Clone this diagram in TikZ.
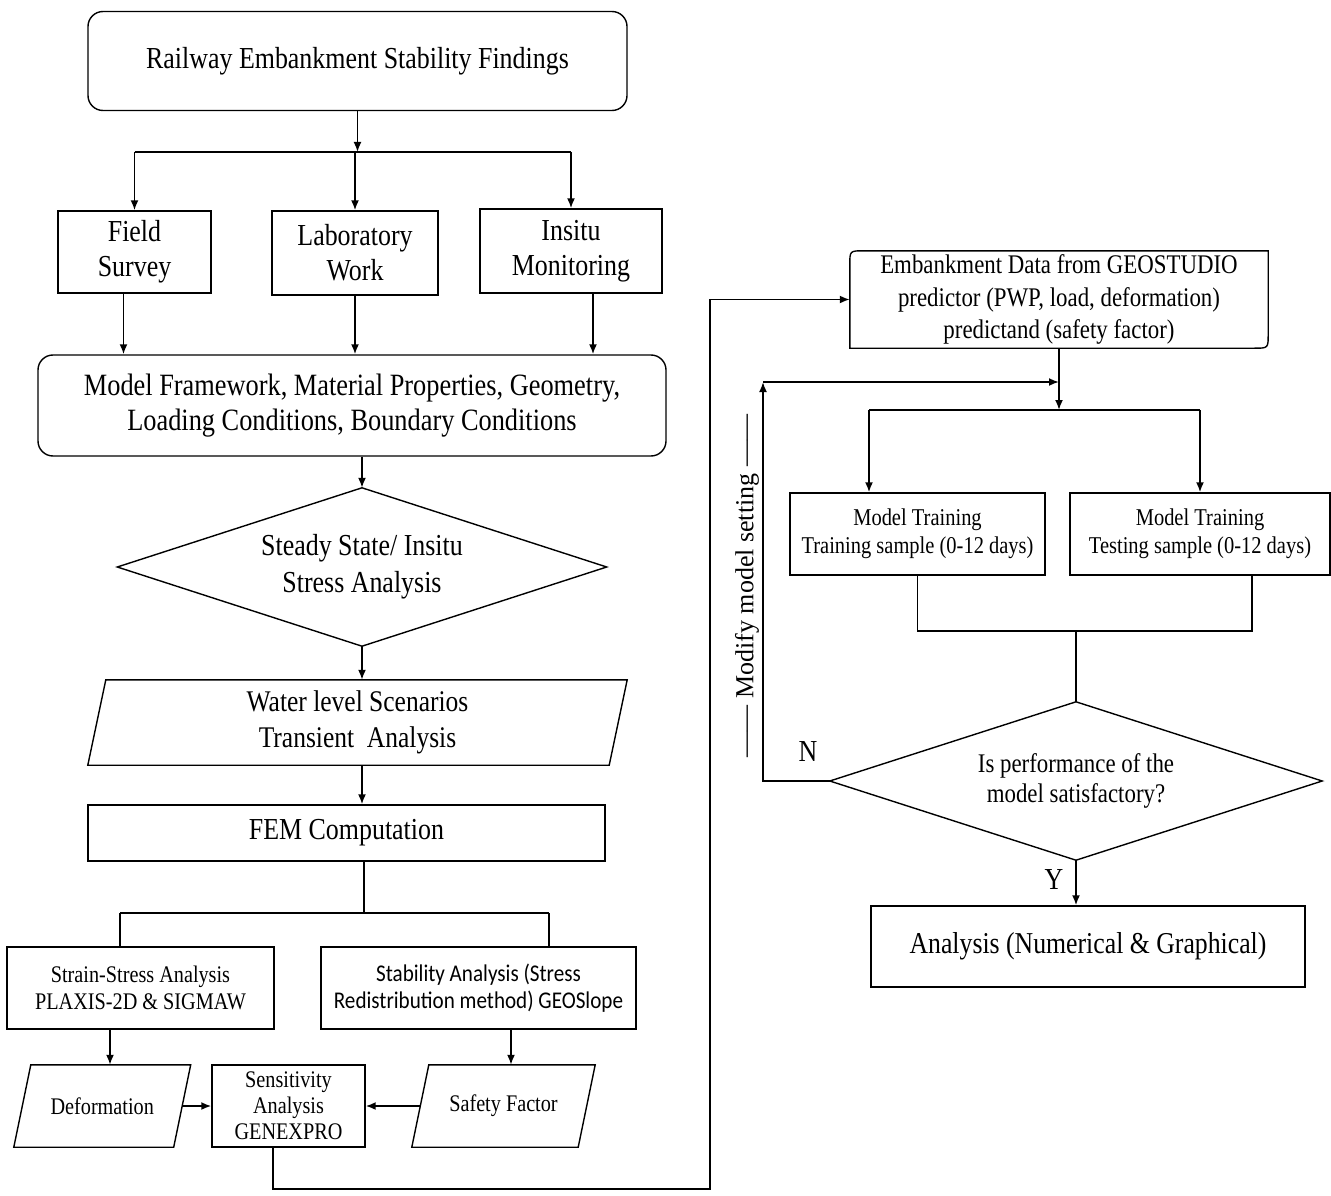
\documentclass[tikz,border=0pt]{standalone}
\usepackage{fontspec}
\setmainfont{Liberation Serif}[FakeStretch=0.85]
\newfontfamily\plainserif{Liberation Serif}
\newfontfamily\sanscond{Carlito}[FakeStretch=0.88]
\usetikzlibrary{arrows.meta,calc}
\newcommand\fsz[2]{\fontsize{#1}{#2}\selectfont}
\newcommand\paraoutline[2]{\draw[shp] ($(#1.north west)+(#2,0)$) -- ($(#1.north east)+(#2,0)$) -- ($(#1.south east)+(-#2,0)$) -- ($(#1.south west)+(-#2,0)$) -- cycle;}
\begin{document}
\begin{tikzpicture}[x=1pt,y=-1pt,
  boxs/.style={draw, line width=1.4pt, inner sep=0pt, align=center},
  rbox/.style={boxs, rounded corners=15pt},
  ghost/.style={inner sep=0pt, align=center},
  conn/.style={line width=1.8pt},
  arr/.style={conn, -{Latex[length=10pt,width=8pt]}},
  shp/.style={line width=1.4pt, line join=miter},
  big/.style={font=\fsz{30.5}{35}},
  small/.style={font=\fsz{23.8}{27}}]
\useasboundingbox (0,0) rectangle (1331,1196);

% ---------- left column ----------
\node[rbox, big, minimum width=539pt, minimum height=99pt] (top) at (357.5,61) {Railway Embankment Stability Findings};
\node[boxs, big, minimum width=153pt, minimum height=82pt] (field) at (134.5,252) {Field\\Survey};
\node[boxs, big, minimum width=166pt, minimum height=84pt] (lab) at (355,253) {Laboratory\\Work};
\node[boxs, big, minimum width=182pt, minimum height=84pt] (insitu) at (571,251) {Insitu\\Monitoring};
\node[rbox, font=\fsz{31}{35}, minimum width=628pt, minimum height=101pt] (model) at (352,405.5) {Model Framework, Material Properties, Geometry,\\Loading Conditions, Boundary Conditions};
\node[ghost, font=\fsz{30.5}{37}, minimum width=489pt, minimum height=158pt] (d1) at (362,567) {Steady State/ Insitu\\Stress Analysis};
\node[ghost, font=\fsz{30}{36}, minimum width=521pt, minimum height=85pt] (water) at (357.5,722.5) {Water level Scenarios\\Transient\ \ Analysis};
\node[boxs, big, minimum width=517pt, minimum height=56pt] (fem) at (346.5,833) {FEM Computation};
\node[boxs, small, minimum width=267pt, minimum height=82pt] (strain) at (140.5,988) {Strain-Stress Analysis\\PLAXIS-2D \& SIGMAW};
\node[boxs, font=\sanscond\fsz{24}{27}, minimum width=315pt, minimum height=82pt] (stab) at (478.5,988) {Stability Analysis (Stress\\Redistribution method) GEOSlope};
\node[ghost, small, minimum width=159.5pt, minimum height=82pt] (deform) at (102.25,1106) {Deformation};
\node[boxs, font=\fsz{23.8}{26}, minimum width=153pt, minimum height=82pt] (sens) at (288.5,1106) {Sensitivity\\Analysis\\GENEXPRO};
\node[ghost, small, minimum width=166pt, minimum height=82pt] (safety) at (503.5,1106) {Safety Factor};

% ---------- right column ----------
\node[ghost, font=\fsz{26.9}{32.5}, minimum width=418pt, minimum height=97pt] (emb) at (1059,299.5) {Embankment Data from GEOSTUDIO\\predictor (PWP, load, deformation)\\predictand (safety factor)};
\node[boxs, font=\fsz{24.1}{28}, minimum width=255pt, minimum height=82pt] (mt1) at (917.5,534) {Model Training\\Training sample (0-12 days)};
\node[boxs, font=\fsz{24.1}{28}, minimum width=260pt, minimum height=82pt] (mt2) at (1200,534) {Model Training\\Testing sample (0-12 days)};
\node[ghost, font=\fsz{26.9}{30}, minimum width=492pt, minimum height=158pt] (d2) at (1076,781) {Is performance of the\\model satisfactory?};
\node[boxs, font=\fsz{30.3}{35}, minimum width=434pt, minimum height=81pt] (ana) at (1088,946.5) {Analysis (Numerical \& Graphical)};
\node[font=\fsz{30.5}{30}, inner sep=0pt] (nlab) at (808,752) {N};
\node[font=\fsz{30.5}{30}, inner sep=0pt] (ylab) at (1054,880) {Y};
\node[rotate=90, font=\plainserif\fsz{26}{30}, inner sep=0pt] (modlab) at (747,586) {—— Modify model setting ——};

% ---------- shape outlines ----------
\draw[shp] (d1.north) -- (d1.east) -- (d1.south) -- (d1.west) -- cycle;
\draw[shp] (d2.north) -- (d2.east) -- (d2.south) -- (d2.west) -- cycle;
\paraoutline{water}{9}
\paraoutline{deform}{8.5}
\paraoutline{safety}{8.5}
\draw[shp] (emb.south west) -- ($(emb.north west)+(0,14)$) .. controls (emb.north west) .. ($(emb.north west)+(14,0)$) -- (emb.north east) -- ($(emb.south east)+(0,-14)$) .. controls (emb.south east) .. ($(emb.south east)+(-14,0)$) -- cycle;

% ---------- connectors: left ----------
\coordinate (b1) at (357.5,152);
\draw[arr] (top.south) -- (b1);
\draw[conn] (field.north |- b1) -- (insitu.north |- b1);
\draw[arr] (field.north |- b1) -- (field.north);
\draw[arr] (lab.north |- b1) -- (lab.north);
\draw[arr] (insitu.north |- b1) -- (insitu.north);
\coordinate (fo) at ($(field.south)+(-11,0)$);
\coordinate (io) at ($(insitu.south)+(22,0)$);
\draw[arr] (fo) -- (fo |- model.north);
\draw[arr] (lab.south) -- (lab.south |- model.north);
\draw[arr] (io) -- (io |- model.north);
\draw[arr] (d1.north |- model.south) -- (d1.north);
\draw[arr] (d1.south) -- (d1.south |- water.north);
\draw[arr] (d1.south |- water.south) -- (d1.south |- fem.north);
\coordinate (b2) at (364,913);
\coordinate (b2l) at (120,913);
\coordinate (b2r) at (549,913);
\draw[conn] (b2 |- fem.south) -- (b2);
\draw[conn] (b2l) -- (b2r);
\draw[conn] (b2l) -- (b2l |- strain.north);
\draw[conn] (b2r) -- (b2r |- stab.north);
\coordinate (so) at ($(strain.south)+(-30.5,0)$);
\coordinate (sto) at ($(stab.south)+(32.5,0)$);
\draw[arr] (so) -- (so |- deform.north);
\draw[arr] (sto) -- (sto |- safety.north);
\draw[arr] (deform.east) -- (sens.west);
\draw[arr] (safety.west) -- (sens.east);
\coordinate (sout) at ($(sens.south)+(-15.5,0)$);
\coordinate (c1) at (710,1189);
\draw[arr] (sout) |- (c1) |- (emb.west);

% ---------- connectors: right ----------
\coordinate (j) at (1059,382);
\coordinate (b3) at (1059,410);
\coordinate (b3l) at (869,410);
\draw[conn] (emb.south) -- (j);
\draw[arr] (j) -- (b3);
\draw[conn] (b3l) -- (mt2.north |- b3);
\draw[arr] (b3l) -- (b3l |- mt1.north);
\draw[arr] (mt2.north |- b3) -- (mt2.north);
\coordinate (m2o) at ($(mt2.south)+(52,0)$);
\coordinate (b4) at (1076,631);
\draw[conn] (mt1.south) |- (m2o |- b4) -- (m2o);
\draw[conn] (b4) -- (d2.north);
\draw[arr] (d2.south) -- (d2.south |- ana.north);
\coordinate (lpt) at (763,382);
\draw[arr] (d2.west) -- (d2.west -| lpt) -- (lpt);
\draw[arr] (lpt) -- (j);
\end{tikzpicture}
\end{document}
